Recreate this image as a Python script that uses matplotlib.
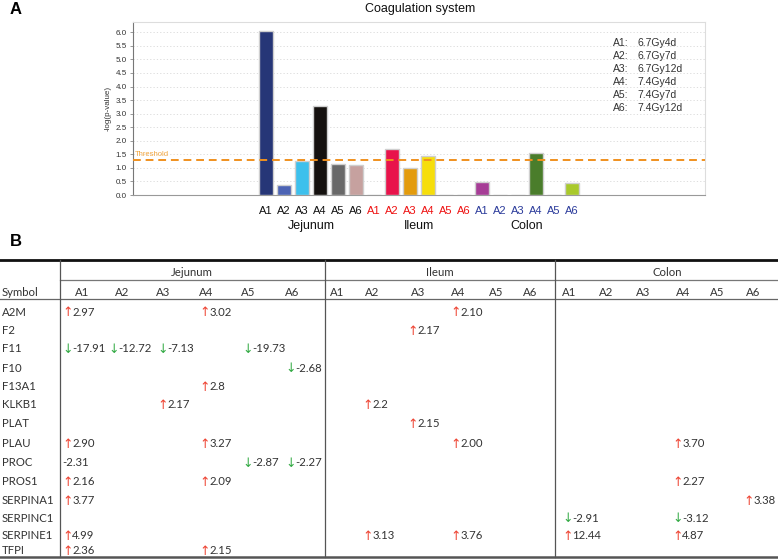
import matplotlib
matplotlib.use("Agg")
import matplotlib.pyplot as plt
from matplotlib.lines import Line2D
from matplotlib.transforms import blended_transform_factory

# ---------------- data: panel A ----------------
tissues = ["Jejunum", "Ileum", "Colon"]
conditions = ["A1", "A2", "A3", "A4", "A5", "A6"]
jejunum_vals = [6.05, 0.38, 1.25, 3.30, 1.15, 1.10]
ileum_vals = [0.0, 1.70, 1.00, 1.42, 0.0, 0.0]
colon_vals = [0.47, 0.0, 0.0, 1.56, 0.0, 0.43]
jejunum_colors = ["#263677", "#4c63b4", "#3dc0ec", "#15110f", "#686868", "#c6a19f"]
ileum_colors = ["#e8134b", "#e8134b", "#e39b0d", "#f6de0b", "#f6de0b", "#f6de0b"]
colon_colors = ["#a63d96", "#a63d96", "#a63d96", "#4a7d2b", "#a9c92b", "#a9c92b"]
tick_colors = {"Jejunum": "#111111", "Ileum": "#ee1111", "Colon": "#2b3b9b"}
threshold = 1.3
legend_codes = ["A1:", "A2:", "A3:", "A4:", "A5:", "A6:"]
legend_desc = ["6.7Gy4d", "6.7Gy7d", "6.7Gy12d", "7.4Gy4d", "7.4Gy7d", "7.4Gy12d"]

# ---------------- data: panel B ----------------
symbols = ["A2M", "F2", "F11", "F10", "F13A1", "KLKB1", "PLAT", "PLAU", "PROC",
           "PROS1", "SERPINA1", "SERPINC1", "SERPINE1", "TFPI"]
# "u" = up arrow, "d" = down arrow, "n" = no arrow
jejunum_tab = [
    ["u2.97", "", "", "u3.02", "", ""],
    ["", "", "", "", "", ""],
    ["d-17.91", "d-12.72", "d-7.13", "", "d-19.73", ""],
    ["", "", "", "", "", "d-2.68"],
    ["", "", "", "u2.8", "", ""],
    ["", "", "u2.17", "", "", ""],
    ["", "", "", "", "", ""],
    ["u2.90", "", "", "u3.27", "", ""],
    ["n-2.31", "", "", "", "d-2.87", "d-2.27"],
    ["u2.16", "", "", "u2.09", "", ""],
    ["u3.77", "", "", "", "", ""],
    ["", "", "", "", "", ""],
    ["u4.99", "", "", "", "", ""],
    ["u2.36", "", "", "u2.15", "", ""],
]
ileum_tab = [
    ["", "", "", "u2.10", "", ""],
    ["", "", "u2.17", "", "", ""],
    ["", "", "", "", "", ""],
    ["", "", "", "", "", ""],
    ["", "", "", "", "", ""],
    ["", "u2.2", "", "", "", ""],
    ["", "", "u2.15", "", "", ""],
    ["", "", "", "u2.00", "", ""],
    ["", "", "", "", "", ""],
    ["", "", "", "", "", ""],
    ["", "", "", "", "", ""],
    ["", "", "", "", "", ""],
    ["", "u3.13", "", "u3.76", "", ""],
    ["", "", "", "", "", ""],
]
colon_tab = [
    ["", "", "", "", "", ""],
    ["", "", "", "", "", ""],
    ["", "", "", "", "", ""],
    ["", "", "", "", "", ""],
    ["", "", "", "", "", ""],
    ["", "", "", "", "", ""],
    ["", "", "", "", "", ""],
    ["", "", "", "u3.70", "", ""],
    ["", "", "", "", "", ""],
    ["", "", "", "u2.27", "", ""],
    ["", "", "", "", "", "u3.38"],
    ["d-2.91", "", "", "d-3.12", "", ""],
    ["u12.44", "", "", "u4.87", "", ""],
    ["", "", "", "", "", ""],
]

W, H = 778, 559
fig = plt.figure(figsize=(W / 100, H / 100), dpi=100)
plt.rcParams["font.family"] = ["Liberation Sans", "DejaVu Sans"]

# ---------------- panel A: bar chart ----------------
ax = fig.add_axes([133 / W, 1 - 195 / H, 572 / W, 173 / H])
all_vals = jejunum_vals + ileum_vals + colon_vals
all_cols = jejunum_colors + ileum_colors + colon_colors
xs = list(range(len(all_vals)))
ax.bar(xs, all_vals, width=0.78, color=all_cols, edgecolor="#cfcfcf", linewidth=1.0, zorder=3)
ax.set_xlim(-7.4, 24.4)
ax.set_ylim(0, 6.38)
ax.set_yticks([i * 0.5 for i in range(13)])
ax.set_yticklabels([f"{i * 0.5:.1f}" for i in range(13)], fontsize=5.8, color="#333333")
ax.yaxis.grid(True, linestyle=(0, (1.5, 2.5)), color="#d8d8d8", linewidth=0.6, zorder=0)
ax.tick_params(axis="y", length=2.5, width=0.6, color="#888888", pad=2)
ax.set_xticks(xs)
labels = conditions * 3
ax.set_xticklabels(labels, fontsize=8)
for i, lab in enumerate(ax.get_xticklabels()):
    lab.set_color(tick_colors[tissues[i // 6]])
ax.tick_params(axis="x", length=0, pad=8)
for s in ["top", "right"]:
    ax.spines[s].set_color("#dddddd")
    ax.spines[s].set_linewidth(0.8)
ax.spines["left"].set_color("#777777")
ax.spines["left"].set_linewidth(0.8)
ax.spines["bottom"].set_color("#999999")
ax.spines["bottom"].set_linewidth(0.8)
ax.set_ylabel("-log(p-value)", fontsize=5.8, color="#333333", labelpad=3)

ax.axhline(threshold, color="#f0901e", linestyle=(0, (4, 2.5)), linewidth=1.4, zorder=4)
ax.text(-7.3, threshold + 0.05, "Threshold", fontsize=5.5, color="#f2a640",
        va="bottom", ha="left", zorder=5)

trans = blended_transform_factory(ax.transData, ax.transAxes)
for g, t in enumerate(tissues):
    ax.text(g * 6 + 2.5, 1 - (226 - 22) / 173, t, transform=trans, ha="center", va="center",
            fontsize=9, color="#111111")

for i, (c, d) in enumerate(zip(legend_codes, legend_desc)):
    yy = 1 - (43 + i * 13 - 22) / 173
    ax.text((613 - 133) / 572, yy, c, transform=ax.transAxes, fontsize=7.5, color="#333333",
            va="center", ha="left")
    ax.text((637 - 133) / 572, yy, d, transform=ax.transAxes, fontsize=7.5, color="#333333",
            va="center", ha="left")

fig.text(420 / W, 1 - 9 / H, "Coagulation system", ha="center", va="center",
         fontsize=9, color="#111111")
fig.text(10 / W, 1 - 9 / H, "A", ha="left", va="center", fontsize=12, fontweight="bold")
fig.text(10 / W, 1 - 242 / H, "B", ha="left", va="center", fontsize=12, fontweight="bold")

# ---------------- panel B: table ----------------
tx = fig.add_axes([0, 0, 1, 1], zorder=-1)
tx.set_xlim(0, W)
tx.set_ylim(H, 0)
tx.axis("off")
tfont = ["Lato", "DejaVu Sans"]
tcol = "#333333"
fs = 8.2

tx.add_line(Line2D([0, W], [260, 260], color="#111111", linewidth=2.0))
tx.add_line(Line2D([60, W], [280, 280], color="#777777", linewidth=0.9))
tx.add_line(Line2D([0, W], [298.5, 298.5], color="#666666", linewidth=0.9))
tx.add_line(Line2D([0, W], [557, 557], color="#555555", linewidth=1.8))
for vx in [60, 325, 555]:
    tx.add_line(Line2D([vx, vx], [260, 557], color="#555555", linewidth=0.9))

group_centers = [192, 440, 667]
header_x = [[82, 122, 163, 206, 248, 292],
            [337, 372, 418, 458, 496, 530],
            [569, 606, 643, 683, 717, 753]]
value_x = [[62, 108, 157, 199, 242, 285],
           [328, 362, 407, 450, 490, 525],
           [562, 600, 637, 672, 710, 743]]
for g, t in enumerate(tissues):
    tx.text(group_centers[g], 275.7, t, ha="center", va="baseline", fontsize=fs,
            color=tcol, family=tfont)
    for c, cond in enumerate(conditions):
        tx.text(header_x[g][c], 295.5, cond, ha="center", va="baseline", fontsize=fs,
                color=tcol, family=tfont)
tx.text(2, 295.5, "Symbol", ha="left", va="baseline", fontsize=fs, color=tcol, family=tfont)

row_base = [315.7, 334.3, 352.3, 371.7, 390, 408.5, 427.3, 447, 466, 485, 504,
            521.7, 539.3, 554.5]
for r, s in enumerate(symbols):
    tx.text(2, row_base[r], s, ha="left", va="baseline", fontsize=fs, color=tcol, family=tfont)

renderer = fig.canvas.get_renderer()
for g, tab in enumerate([jejunum_tab, ileum_tab, colon_tab]):
    for r, row in enumerate(tab):
        for c, cell in enumerate(row):
            if not cell:
                continue
            kind, val = cell[0], cell[1:]
            x0 = value_x[g][c]
            if kind in ("u", "d"):
                arr = tx.text(x0, row_base[r] + 0.8, "\u2191" if kind == "u" else "\u2193",
                              ha="left", va="baseline", fontsize=9,
                              color="#ee4433" if kind == "u" else "#33aa44",
                              family=["DejaVu Sans"])
                ext = arr.get_window_extent(renderer)
                x0 = ext.x1 - 0.2
            tx.text(x0, row_base[r], val, ha="left", va="baseline", fontsize=fs,
                    color=tcol, family=tfont)

fig.savefig("out.png", dpi=100)
